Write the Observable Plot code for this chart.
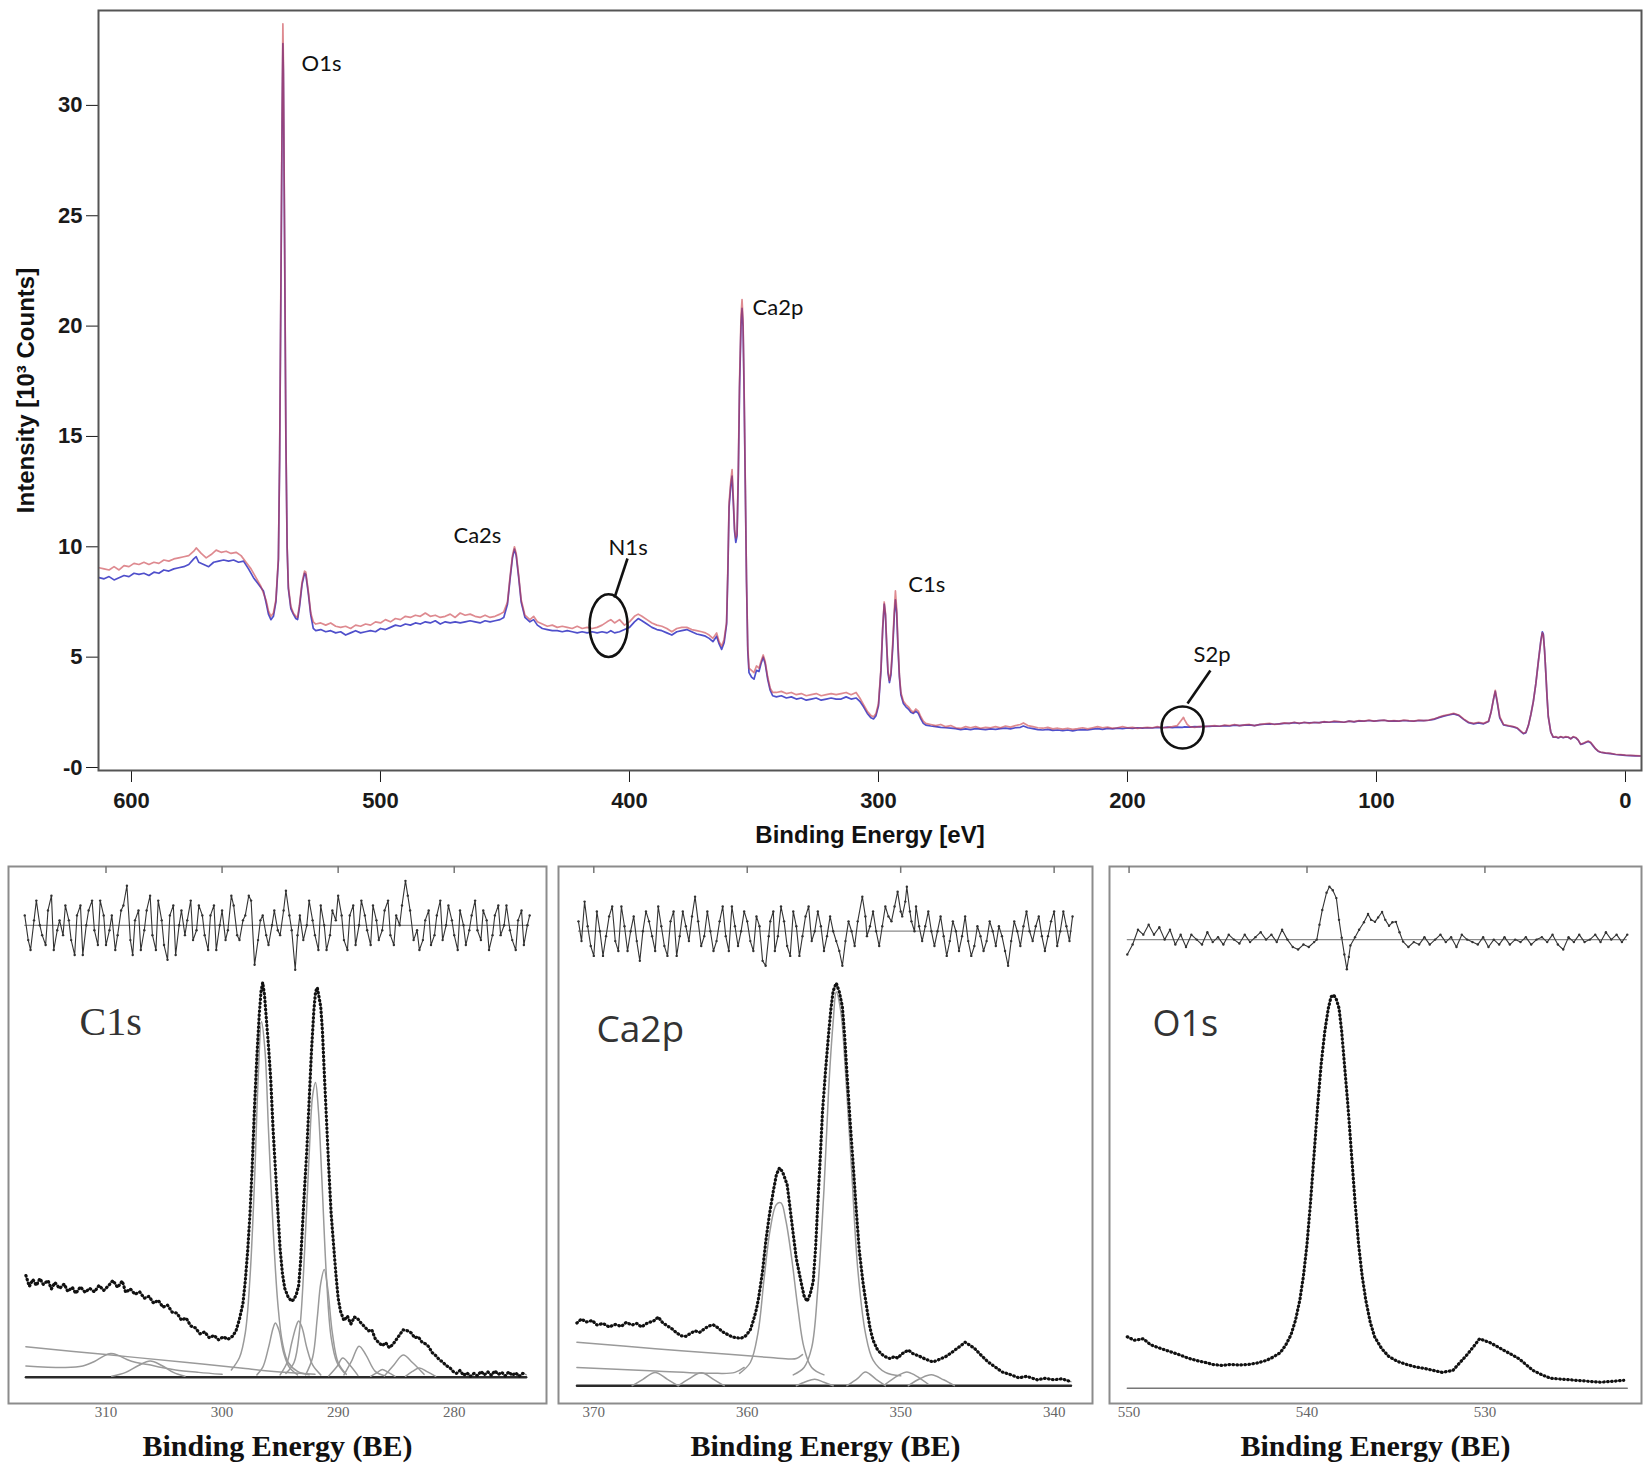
<!DOCTYPE html>
<html><head><meta charset="utf-8">
<script src="https://cdn.jsdelivr.net/npm/d3@7"></script>
<script src="https://cdn.jsdelivr.net/npm/@observablehq/plot@0.6"></script>
<style>
body{margin:0;background:#fff;}
#wrap{position:relative;width:1652px;height:1473px;overflow:hidden;background:#fff;}
#wrap > div{position:absolute;}
</style></head><body>
<div id="wrap"><div id="survey" style="left:0;top:0"></div><div id="p1" style="left:0;top:856px"></div><div id="p2" style="left:550px;top:856px"></div><div id="p3" style="left:1100px;top:856px"></div></div>
<script>
// ---------------- survey spectrum ----------------
const xTicks = [600, 500, 400, 300, 200, 100, 0];
const yTicks = [0, 5, 10, 15, 20, 25, 30];
const yTickLabels = ["-0", "5", "10", "15", "20", "25", "30"];
const xAxisLabel = "Binding Energy [eV]";
const yAxisLabel = "Intensity [10³ Counts]";

const peakNames = ["O1s", "Ca2s", "N1s", "Ca2p", "C1s", "S2p"];
const peakLabelE = [531.7, 470.7, 408.4, 350.6, 288.0, 173.5];
const peakLabelI = [31.9, 10.5, 9.95, 20.8, 8.27, 5.1];

const ringE = [408.4, 177.9];
const ringI = [6.43, 1.81];
const leaderE1 = [400.8, 166.7], leaderI1 = [9.47, 4.40];
const leaderE2 = [406.0, 175.9], leaderI2 = [7.70, 2.90];

const surveyRed = [[613,9.05],[611,9.0],[609,8.95],[607,9.1],[605,8.95],[603,9.15],[601,9.1],[599,9.25],[597,9.2],[595,9.3],[593,9.2],[591,9.3],[589,9.25],[587,9.4],[585,9.35],[583,9.45],[581,9.5],[579,9.55],[577,9.6],[575,9.8],[574,9.95],[572,9.7],[570,9.5],[568,9.65],[566,9.85],[564,9.75],[562,9.8],[560,9.7],[558,9.75],[556,9.6],[554,9.3],[552,9.0],[550,8.6],[548,8.2],[546,7.6],[545,7.1],[544,6.85],[543,7.0],[542,7.6],[541,9.5],[540.5,14],[540,22],[539.5,30],[539.2,33.7],[539,32],[538.5,24],[538,15],[537.5,10],[537,8.2],[536,7.3],[535,7.0],[534,6.85],[533.3,6.8],[532.5,7.4],[531.5,8.4],[530.5,8.9],[530,8.85],[529,8.0],[528,7.0],[527,6.6],[526,6.5],[524,6.55],[522,6.45],[520,6.55],[518,6.4],[516,6.35],[514,6.4],[512,6.3],[510,6.45],[508,6.4],[506,6.5],[504,6.45],[502,6.6],[500,6.55],[498,6.7],[496,6.6],[494,6.75],[492,6.7],[490,6.85],[488,6.8],[486,6.9],[484,6.85],[482,7.0],[480,6.85],[478,6.9],[476,6.8],[474,6.85],[472,6.95],[470,6.8],[468,7.0],[466,6.9],[464,6.95],[462,6.85],[460,6.8],[458,6.9],[456,6.8],[454,6.85],[452,6.95],[450.5,7.05],[449,7.5],[448,8.6],[447,9.6],[446.2,10.0],[445.5,9.7],[444.5,8.7],[443.5,7.6],[442,6.9],[440,6.7],[438.5,6.85],[437,6.6],[435,6.5],[433,6.4],[431,6.45],[429,6.35],[427,6.4],[425,6.35],[423,6.3],[421,6.4],[419,6.3],[417,6.35],[415,6.3],[413,6.35],[411,6.45],[409,6.6],[407.5,6.7],[406,6.55],[404,6.7],[402,6.45],[400,6.6],[398,6.85],[396.5,6.95],[395,6.85],[393,6.7],[391,6.55],[389,6.45],[387,6.4],[385,6.3],[383,6.15],[381,6.3],[379,6.35],[377,6.35],[375,6.25],[373,6.2],[371,6.15],[369.5,6.1],[368,6.0],[366.5,5.85],[365,6.1],[364,5.7],[363,5.5],[362,5.8],[361,6.6],[360.5,9.0],[360,12.0],[359.3,13.0],[358.8,13.5],[358.3,12.2],[357.8,10.8],[357.3,10.4],[356.8,10.6],[356.3,13.5],[355.8,17.5],[355.2,20.5],[354.8,21.2],[354.4,20.3],[354,17.5],[353.5,13.0],[353,8.5],[352.5,5.5],[352,4.5],[351,4.4],[350,4.3],[349,4.6],[348,4.5],[347.2,4.8],[346.3,5.1],[345.5,4.8],[344.5,4.1],[343.5,3.6],[342.5,3.4],[341,3.4],[339,3.45],[337,3.35],[335,3.4],[333,3.3],[331,3.35],[329,3.25],[327,3.3],[325,3.35],[323,3.25],[321,3.3],[319,3.35],[317,3.3],[315,3.35],[313,3.4],[311,3.3],[309,3.4],[307.5,3.15],[306,2.85],[304.5,2.55],[303,2.35],[302,2.3],[301,2.45],[300,2.9],[299,4.5],[298.3,6.4],[297.7,7.5],[297.2,7.0],[296.7,5.6],[296.2,4.4],[295.6,3.95],[295,4.3],[294.3,5.6],[293.6,7.2],[293.2,8.0],[292.7,7.2],[292.2,5.7],[291.6,4.2],[291,3.4],[290,3.0],[289,2.85],[288,2.75],[287,2.6],[286,2.5],[285,2.65],[284,2.55],[283,2.3],[282,2.1],[281,2.0],[279,1.95],[277,1.9],[275,1.95],[273,1.85],[271,1.9],[269,1.8],[267,1.77],[265,1.85],[263,1.8],[261,1.85],[259,1.78],[257,1.82],[255,1.8],[253,1.85],[251,1.8],[249,1.88],[247,1.83],[245,1.9],[243,1.95],[241.8,2.02],[240,1.9],[238,1.85],[236,1.8],[234,1.78],[232,1.82],[230,1.75],[228,1.78],[226,1.74],[224,1.78],[222,1.73],[220,1.76],[218,1.8],[216,1.75],[214,1.8],[212,1.85],[210,1.8],[208,1.83],[206,1.78],[204,1.8],[202,1.85],[200,1.8],[198,1.82],[196,1.77],[194,1.8],[192,1.82],[190,1.8],[188,1.85],[186,1.8],[184,1.82],[182,1.85],[180,1.9],[179,2.05],[178,2.2],[177.5,2.27],[177,2.15],[176,1.95],[175,1.85],[173,1.82],[171,1.86],[169,1.85],[167,1.88],[165,1.9],[163,1.87],[161,1.92],[159,1.9],[157,1.95],[155,1.9],[153,1.93],[151,1.95],[149,1.9],[147,1.95],[145,1.98],[143,2.0],[141,1.95],[139,1.98],[137,2.02],[135,2.0],[133,2.05],[131,2.0],[129,2.05],[127,2.0],[125,2.05],[123,2.02],[121,2.08],[119,2.05],[117,2.1],[115,2.08],[113,2.05],[111,2.1],[109,2.08],[107,2.12],[105,2.1],[103,2.15],[101,2.1],[99,2.13],[97,2.15],[95,2.1],[93,2.12],[91,2.1],[89,2.15],[87,2.12],[85,2.1],[83,2.15],[81,2.12],[79,2.15],[77,2.2],[75,2.28],[73,2.35],[71,2.4],[69,2.45],[67,2.38],[65,2.2],[63,2.05],[61,2.0],[59,2.05],[57,2.0],[55,2.1],[54,2.5],[53,3.1],[52.3,3.5],[51.5,3.0],[50.5,2.3],[49,1.95],[47,1.9],[45,1.85],[43.5,1.8],[42,1.65],[41,1.55],[40,1.6],[39,1.9],[38,2.4],[37,3.0],[36,3.8],[35,4.8],[34,5.7],[33.4,6.1],[33,6.0],[32.5,5.3],[32,4.3],[31.5,3.2],[31,2.3],[30,1.6],[29,1.38],[28,1.4],[27,1.35],[26,1.4],[25,1.36],[24,1.4],[23,1.38],[22,1.3],[21,1.4],[20,1.36],[19,1.25],[18,1.05],[17,1.1],[16,1.15],[15,1.2],[14,1.14],[13,1.0],[12,0.85],[11,0.75],[10,0.7],[8,0.66],[6,0.64],[4,0.6],[2,0.58],[0,0.56],[-2,0.55],[-4,0.54],[-6,0.53]];

const surveyBlue = [[613,8.6],[611,8.55],[609,8.65],[607,8.5],[605,8.6],[603,8.7],[601,8.65],[599,8.8],[597,8.75],[595,8.8],[593,8.7],[591,8.85],[589,8.8],[587,8.95],[585,8.9],[583,9.0],[581,9.05],[579,9.1],[577,9.2],[575,9.45],[574,9.55],[573,9.3],[571,9.2],[569,9.1],[567,9.3],[565,9.35],[563,9.4],[561,9.35],[559,9.4],[557,9.3],[555,9.35],[553,9.0],[551,8.6],[549,8.3],[547,8.0],[546,7.5],[545,6.95],[544,6.7],[543,6.85],[542,7.5],[541,9.4],[540.5,14],[540,21.5],[539.5,29.5],[539.2,32.8],[539,31.5],[538.5,23.5],[538,15],[537.5,10],[537,8.1],[536,7.2],[535,6.95],[534,6.75],[533.3,6.7],[532.5,7.3],[531.5,8.3],[530.5,8.8],[530,8.75],[529,7.9],[528,6.9],[527,6.3],[526,6.2],[524,6.25],[522,6.15],[520,6.2],[518,6.1],[516,6.15],[514,6.0],[512,6.1],[510,6.2],[508,6.1],[506,6.15],[504,6.2],[502,6.15],[500,6.3],[498,6.25],[496,6.35],[494,6.45],[492,6.4],[490,6.5],[488,6.45],[486,6.55],[484,6.5],[482,6.6],[480,6.55],[478,6.65],[476,6.5],[474,6.6],[472,6.55],[470,6.6],[468,6.55],[466,6.6],[464,6.65],[462,6.6],[460,6.55],[458,6.65],[456,6.6],[454,6.65],[452,6.7],[450.5,6.8],[449,7.4],[448,8.5],[447,9.5],[446.2,9.9],[445.5,9.6],[444.5,8.6],[443.5,7.5],[442,6.8],[440,6.6],[438.5,6.7],[437,6.45],[435,6.3],[433,6.25],[431,6.2],[429,6.2],[427,6.15],[425,6.2],[423,6.15],[421,6.1],[419,6.15],[417,6.1],[415,6.15],[413,6.1],[411,6.15],[409,6.1],[407.5,6.2],[406,6.1],[404,6.15],[402,6.25],[400,6.35],[398,6.6],[396.5,6.75],[395,6.65],[393,6.5],[391,6.35],[389,6.25],[387,6.2],[385,6.1],[383,6.0],[381,6.15],[379,6.2],[377,6.25],[375,6.15],[373,6.05],[371,6.0],[369.5,5.95],[368,5.85],[366.5,5.7],[365,5.95],[364,5.6],[363,5.35],[362,5.65],[361,6.5],[360.5,8.8],[360,11.8],[359.3,12.8],[358.8,13.2],[358.3,12.0],[357.8,10.7],[357.3,10.2],[356.8,10.5],[356.3,13.2],[355.8,17.2],[355.2,20.1],[354.8,20.8],[354.4,20.0],[354,17.2],[353.5,12.8],[353,8.4],[352.5,5.3],[352,4.3],[351,4.1],[350,4.0],[349,4.4],[348,4.35],[347.2,4.7],[346.3,5.0],[345.5,4.7],[344.5,4.0],[343.5,3.5],[342.5,3.25],[341,3.2],[339,3.25],[337,3.15],[335,3.2],[333,3.1],[331,3.15],[329,3.05],[327,3.1],[325,3.15],[323,3.05],[321,3.1],[319,3.15],[317,3.1],[315,3.1],[313,3.2],[311,3.1],[309,3.15],[307.5,3.0],[306,2.75],[304.5,2.45],[303,2.25],[302,2.2],[301,2.35],[300,2.8],[299,4.4],[298.3,6.3],[297.7,7.4],[297.2,6.9],[296.7,5.5],[296.2,4.3],[295.6,3.85],[295,4.2],[294.3,5.4],[293.6,7.0],[293.2,7.6],[292.7,7.0],[292.2,5.5],[291.6,4.1],[291,3.3],[290,2.9],[289,2.75],[288,2.65],[287,2.5],[286,2.45],[285,2.55],[284,2.45],[283,2.2],[282,2.0],[281,1.92],[279,1.88],[277,1.85],[275,1.82],[273,1.8],[271,1.78],[269,1.76],[267,1.72],[265,1.75],[263,1.72],[261,1.76],[259,1.74],[257,1.72],[255,1.75],[253,1.73],[251,1.76],[249,1.78],[247,1.75],[245,1.8],[243,1.82],[241.8,1.88],[240,1.8],[238,1.76],[236,1.72],[234,1.7],[232,1.73],[230,1.68],[228,1.7],[226,1.67],[224,1.7],[222,1.66],[220,1.7],[218,1.72],[216,1.7],[214,1.74],[212,1.76],[210,1.73],[208,1.77],[206,1.75],[204,1.78],[202,1.76],[200,1.79],[198,1.77],[196,1.8],[194,1.78],[192,1.8],[190,1.79],[188,1.82],[186,1.8],[184,1.83],[182,1.81],[180,1.83],[178,1.82],[177,1.84],[175,1.83],[173,1.85],[171,1.84],[169,1.87],[167,1.86],[165,1.88],[163,1.87],[161,1.9],[159,1.88],[157,1.92],[155,1.9],[153,1.92],[151,1.93],[149,1.9],[147,1.94],[145,1.96],[143,1.98],[141,1.96],[139,1.98],[137,2.0],[135,2.0],[133,2.03],[131,2.0],[129,2.04],[127,2.02],[125,2.04],[123,2.03],[121,2.07],[119,2.05],[117,2.08],[115,2.07],[113,2.05],[111,2.1],[109,2.07],[107,2.11],[105,2.1],[103,2.13],[101,2.1],[99,2.12],[97,2.14],[95,2.1],[93,2.11],[91,2.1],[89,2.13],[87,2.11],[85,2.1],[83,2.13],[81,2.12],[79,2.14],[77,2.18],[75,2.26],[73,2.33],[71,2.38],[69,2.43],[67,2.36],[65,2.18],[63,2.03],[61,1.98],[59,2.02],[57,1.98],[55,2.08],[54,2.5],[53,3.1],[52.3,3.45],[51.5,2.95],[50.5,2.25],[49,1.93],[47,1.88],[45,1.84],[43.5,1.78],[42,1.63],[41,1.53],[40,1.58],[39,1.9],[38,2.4],[37,3.0],[36,3.8],[35,4.8],[34,5.75],[33.4,6.15],[33,6.05],[32.5,5.3],[32,4.3],[31.5,3.2],[31,2.3],[30,1.6],[29,1.37],[28,1.38],[27,1.34],[26,1.39],[25,1.35],[24,1.38],[23,1.37],[22,1.3],[21,1.38],[20,1.35],[19,1.24],[18,1.05],[17,1.08],[16,1.13],[15,1.18],[14,1.12],[13,0.98],[12,0.84],[11,0.74],[10,0.69],[8,0.65],[6,0.63],[4,0.59],[2,0.57],[0,0.55],[-2,0.54],[-4,0.53],[-6,0.52]];

// ---------------- high resolution panels ----------------
const panelAxisLabel = "Binding Energy (BE)";
const panelTitles = ["C1s", "Ca2p", "O1s"];
const c1sTicks = [310, 300, 290, 280];
const ca2pTicks = [370, 360, 350, 340];
const o1sTicks = [550, 540, 530];

const c1sData = [[316.9,20.6],[316.6,18.4],[316.3,19.8],[316.0,18.6],[315.7,20.0],[315.4,18.8],[315.0,19.6],[314.7,17.9],[314.4,19.2],[314.0,18.0],[313.6,18.9],[313.3,17.4],[312.9,18.2],[312.6,17.0],[312.2,18.3],[311.8,17.2],[311.4,18.0],[311.0,17.3],[310.6,18.6],[310.2,17.6],[309.8,18.5],[309.4,19.6],[309.0,18.2],[308.6,19.5],[308.3,17.2],[307.9,17.9],[307.5,16.8],[307.1,17.3],[306.7,16.0],[306.3,16.4],[305.9,15.0],[305.5,15.6],[305.1,14.2],[304.7,14.6],[304.3,13.2],[303.9,13.0],[303.5,11.6],[303.1,12.0],[302.7,10.4],[302.3,10.0],[301.9,8.8],[301.5,9.2],[301.1,8.0],[300.7,8.5],[300.3,7.6],[299.9,8.2],[299.5,7.7],[299.1,8.3],[298.8,9.4],[298.5,11.8],[298.2,15.0],[298.0,19.5],[297.8,25.4],[297.6,33],[297.4,43],[297.2,55],[297.0,65],[296.8,73.3],[296.65,78],[296.5,79.9],[296.35,77.5],[296.2,73.0],[296.0,67],[295.8,60],[295.6,50],[295.4,42],[295.2,34],[295.0,26],[294.8,21],[294.6,18],[294.3,16.2],[294.0,15.4],[293.8,15.8],[293.6,16.8],[293.4,18.6],[293.25,23],[293.1,29.4],[292.9,38],[292.7,46],[292.5,56],[292.3,66],[292.1,74],[291.95,78],[291.8,78.9],[291.65,77],[291.5,75],[291.35,70],[291.2,62],[291.0,52],[290.8,42],[290.6,33],[290.4,27],[290.2,21],[290.0,16],[289.8,13.4],[289.5,11.5],[289.2,12.4],[288.9,10.8],[288.6,12.2],[288.3,11.8],[288.0,10.9],[287.7,10.2],[287.4,9.4],[287.1,9.6],[286.8,7.8],[286.5,7.0],[286.2,6.4],[285.9,7.0],[285.6,6.0],[285.3,6.6],[285.0,7.6],[284.7,8.6],[284.4,9.6],[284.0,9.4],[283.7,9.0],[283.4,8.0],[283.1,8.2],[282.8,7.2],[282.5,6.8],[282.2,6.2],[281.9,5.0],[281.6,4.4],[281.3,3.6],[281.0,3.1],[280.7,2.4],[280.4,2.0],[280.1,1.2],[279.8,0.8],[279.5,1.4],[279.2,0.4],[278.9,0.9],[278.6,0.2],[278.3,0.8],[278.0,0.3],[277.7,1.2],[277.4,0.5],[277.1,1.1],[276.8,0.4],[276.5,1.3],[276.2,0.6],[275.9,1.0],[275.6,0.3],[275.3,1.1],[275.0,0.4],[274.7,0.9],[274.4,0.2],[274.1,0.8],[273.8,0.5]];

const c1sComponents = [
  [[316.9,6.2],[310,4.6],[303,3.0],[298,1.8],[296.9,1.5],[295,1.1],[292,0.6]],
  [[316.9,2.3],[313.5,2.0],[312,2.3],[311,3.2],[310.2,4.3],[309.6,4.8],[309,4.5],[308.2,3.6],[307.4,3.0],[306.4,2.6],[305.2,2.0],[304,1.5],[302,1.0],[300,0.6]],
  [[309.5,0.2],[308.3,1.0],[307.2,2.4],[306.2,3.3],[305.2,2.4],[304.2,1.0],[303.2,0.2]],
  [[299.2,1.5],[298.5,4],[298,9],[297.6,20],[297.2,40],[296.9,60],[296.6,72],[296.3,66],[296.0,50],[295.6,30],[295.2,15],[294.8,7],[294.3,3],[293.5,1.2],[292.5,0.5]],
  [[297,0.5],[296.5,2],[296,6],[295.6,10],[295.4,11],[295.1,9.5],[294.7,5],[294.2,2],[293.5,0.5]],
  [[295,0.5],[294.4,3],[294,7],[293.6,10.5],[293.4,11.4],[293.1,10],[292.7,6],[292.2,2.5],[291.5,0.5]],
  [[294.5,0.8],[293.8,3],[293.3,10],[292.9,25],[292.5,45],[292.2,57],[291.95,59.7],[291.7,54],[291.4,40],[291.0,20],[290.6,8],[290.1,3],[289.5,1]],
  [[292.8,0.5],[292.2,4],[291.8,12],[291.5,19],[291.2,21.8],[290.9,18],[290.5,9],[290.0,3],[289.3,0.6]],
  [[290.8,0.3],[290.1,2.2],[289.6,3.9],[289.0,2.5],[288.3,0.4]],
  [[289.5,0.5],[288.8,3.5],[288.2,6.3],[287.6,4.5],[286.8,1.2],[286,0.3]],
  [[287.2,0.2],[286.6,1.0],[286.2,1.6],[285.7,1.0],[285.1,0.2]],
  [[286,0.3],[285.2,2.5],[284.4,4.5],[283.6,3],[282.6,0.6]],
  [[284.2,0.2],[283.6,1.2],[283.0,1.9],[282.3,1.1],[281.6,0.2]]
];
const c1sBaseline = [[316.9,0],[273.8,0]];
const c1sResidZero = 91.5;
const c1sResidual = [[317.0,2],[316.7,-3],[316.5,-5],[316.2,1],[316.0,5],[315.7,0],[315.5,-2],[315.2,-4],[315.0,3],[314.7,6],[314.5,-5],[314.2,-1],[314.0,1],[313.7,-2],[313.5,4],[313.2,1],[313.0,-3],[312.7,-6],[312.5,2],[312.2,4],[312.0,-6],[311.7,0],[311.5,3],[311.2,5],[311.0,-1],[310.7,-4],[310.5,5],[310.2,2],[310.0,-4],[309.7,-1],[309.5,2],[309.2,-5],[309.0,-2],[308.7,3],[308.5,4],[308.2,8],[307.9,-3],[307.7,-6],[307.5,1],[307.2,3],[307.0,-5],[306.7,-1],[306.5,3],[306.2,6],[306.0,-2],[305.7,-5],[305.5,5],[305.2,1],[305.0,-4],[304.7,-7],[304.5,2],[304.2,4],[304.0,-6],[303.7,0],[303.5,3],[303.2,-2],[303.0,1],[302.7,5],[302.5,-3],[302.2,-1],[302.0,4],[301.7,2],[301.5,-2],[301.2,-5],[301.0,2],[300.7,4],[300.5,-5],[300.2,0],[300.0,3],[299.7,-3],[299.5,-1],[299.2,6],[299.0,4],[298.7,-2],[298.5,-3],[298.2,1],[298.0,2],[297.7,6],[297.5,5],[297.2,-8],[296.9,-3],[296.7,1],[296.5,2],[296.2,-2],[296.0,-4],[295.7,0],[295.5,3],[295.2,-1],[295.0,-2],[294.7,3],[294.5,7],[294.2,2],[294.0,-1],[293.7,-9],[293.5,-2],[293.3,2],[293.0,-3],[292.7,0],[292.5,5],[292.2,1],[292.0,-2],[291.7,-5],[291.5,4],[291.2,0],[291.0,-5],[290.7,-2],[290.5,3],[290.2,1],[290.0,6],[289.7,2],[289.5,-3],[289.2,-5],[289.0,2],[288.7,4],[288.5,-4],[288.2,0],[288.0,5],[287.7,2],[287.5,-1],[287.2,-4],[287.0,4],[286.7,1],[286.5,-3],[286.2,-1],[286.0,3],[285.7,5],[285.5,-2],[285.2,-4],[285.0,2],[284.7,0],[284.5,4],[284.2,9],[284.0,6],[283.8,3],[283.5,-3],[283.2,-1],[283.0,-5],[282.7,-3],[282.5,1],[282.2,3],[282.0,-4],[281.7,-2],[281.5,2],[281.2,5],[281.0,-3],[280.7,0],[280.5,4],[280.2,1],[280.0,-2],[279.7,-5],[279.5,3],[279.2,0],[279.0,-4],[278.7,-1],[278.5,2],[278.2,5],[278.0,-1],[277.7,-3],[277.5,3],[277.2,1],[277.0,-5],[276.7,-2],[276.5,2],[276.2,4],[276.0,-2],[275.7,0],[275.5,4],[275.2,-1],[275.0,-3],[274.7,-5],[274.5,1],[274.2,3],[274.0,-4],[273.7,0],[273.5,2]];

const ca2pData = [[371.1,11.0],[370.8,11.8],[370.5,11.2],[370.1,11.5],[369.8,10.6],[369.4,10.9],[369.0,10.2],[368.6,10.7],[368.2,10.3],[367.9,11.1],[367.5,10.6],[367.2,10.9],[366.9,10.2],[366.5,11.0],[366.1,11.4],[365.8,12.2],[365.5,11.0],[365.2,10.4],[364.9,9.8],[364.6,9.0],[364.3,8.4],[364.0,8.3],[363.7,8.9],[363.4,9.4],[363.1,9.1],[362.8,9.8],[362.5,10.4],[362.2,10.6],[361.9,10.0],[361.6,9.2],[361.3,8.7],[361.0,8.2],[360.7,8.0],[360.4,7.9],[360.1,8.4],[359.8,9.6],[359.6,11.5],[359.4,13.8],[359.25,16.2],[359.0,21.5],[358.8,27.3],[358.55,33],[358.3,37.7],[358.1,41],[357.9,42.4],[357.7,41.6],[357.4,39.0],[357.2,34],[357.0,28.9],[356.8,24],[356.5,19.4],[356.3,16.5],[356.1,15.4],[355.9,16.8],[355.7,19.4],[355.55,26],[355.4,35.3],[355.25,44],[355.1,53.5],[354.9,62],[354.7,69.4],[354.55,74.5],[354.4,78.2],[354.2,79.8],[354.0,78],[353.8,75.0],[353.65,69],[353.5,61.5],[353.3,52],[353.1,43.2],[352.9,34],[352.7,25.7],[352.45,19],[352.2,13.8],[352.0,10.0],[351.8,7.5],[351.5,5.5],[351.1,4.3],[350.7,3.8],[350.4,4.2],[350.2,3.9],[349.9,4.8],[349.5,5.5],[349.2,4.8],[348.8,4.3],[348.4,3.7],[347.9,3.1],[347.5,3.6],[347.0,4.3],[346.6,5.2],[346.3,5.9],[346.0,6.6],[345.8,7.1],[345.5,6.5],[345.2,5.9],[344.8,4.6],[344.3,3.1],[343.8,2.0],[343.4,1.1],[342.9,0.6],[342.3,-0.1],[341.8,0.2],[341.1,-0.5],[340.6,-0.2],[340.0,-0.5],[339.5,-0.3],[338.9,-0.9]];

const ca2pComponents = [
  [[371.1,7.1],[366,5.8],[361,4.6],[358.5,4.0],[357.2,3.7],[356.8,3.8],[356.4,4.6]],
  [[371.1,2.0],[366,1.3],[362,0.8],[360.8,1.0],[360.2,2.0]],
  [[360.5,0.8],[359.8,3],[359.3,9],[358.9,20],[358.5,30],[358.1,35],[357.8,35.3],[357.5,32],[357.1,24],[356.7,14],[356.3,6],[355.8,2],[355,0.5]],
  [[357,0.5],[356.3,2],[355.8,6],[355.4,18],[355.0,38],[354.7,58],[354.4,72],[354.2,78],[353.9,74],[353.6,62],[353.2,42],[352.8,22],[352.3,9],[351.8,3.5],[351,1],[350,0.3]],
  [[367.5,-1.7],[366.8,-0.4],[366,1.0],[365.2,-0.4],[364.5,-1.7]],
  [[364.5,-1.7],[363.8,-0.3],[363,0.9],[362.2,-0.4],[361.5,-1.7]],
  [[356.8,-1.7],[356.2,-0.9],[355.6,-0.4],[355.0,-1.0],[354.4,-1.7]],
  [[353.5,-1.7],[352.8,-0.2],[352.3,1.1],[351.6,-0.4],[351,-1.7]],
  [[351,-1.4],[350.2,0.3],[349.6,1.1],[349,0.3],[348.2,-1.4]],
  [[349.5,-1.7],[348.7,-0.2],[348,0.5],[347.2,-0.5],[346.5,-1.7]]
];
const ca2pBaseline = [[371.1,-1.7],[338.9,-1.7]];
const ca2pResidZero = 90.3;
const ca2pResidual = [[371.0,2],[370.8,-2],[370.6,6],[370.4,1],[370.2,-3],[370.0,-5],[369.8,4],[369.6,0],[369.4,-5],[369.2,-1],[369.0,3],[368.8,5],[368.6,-2],[368.4,-4],[368.2,5],[368.0,1],[367.8,-4],[367.6,0],[367.4,3],[367.2,-2],[367.0,-6],[366.8,0],[366.6,4],[366.4,2],[366.2,-1],[366.0,-4],[365.8,5],[365.6,1],[365.4,-3],[365.2,-5],[365.0,2],[364.8,4],[364.6,-5],[364.4,-1],[364.2,4],[364.0,1],[363.8,-2],[363.6,3],[363.4,7],[363.2,2],[363.0,-3],[362.8,-1],[362.6,4],[362.4,0],[362.2,-4],[362.0,-2],[361.8,2],[361.6,5],[361.4,-1],[361.2,-4],[361.0,5],[360.8,1],[360.6,-3],[360.4,0],[360.2,4],[360.0,2],[359.8,-2],[359.6,-4],[359.4,3],[359.2,1],[359.0,-6],[358.8,-7],[358.6,-1],[358.5,2],[358.3,4],[358.2,-4],[358.0,-1],[357.8,5],[357.6,2],[357.4,-3],[357.2,-5],[357.0,4],[356.8,1],[356.6,-5],[356.4,-1],[356.2,3],[356.0,5],[355.8,-2],[355.6,0],[355.4,4],[355.2,1],[355.0,-4],[354.8,-1],[354.6,3],[354.4,0],[354.2,-2],[354.0,-4],[353.8,-7],[353.6,-2],[353.4,2],[353.2,0],[353.0,-3],[352.8,2],[352.5,7],[352.3,3],[352.2,-1],[352.0,1],[351.8,4],[351.6,0],[351.4,-3],[351.2,1],[351.0,5],[350.8,3],[350.6,2],[350.4,5],[350.2,8],[350.0,4],[349.9,3],[349.7,6],[349.6,9],[349.4,4],[349.3,2],[349.1,0],[349.0,5],[348.8,1],[348.6,-2],[348.4,1],[348.2,4],[348.0,0],[347.8,-3],[347.6,0],[347.4,3],[347.2,-1],[347.0,-5],[346.8,-2],[346.6,2],[346.4,0],[346.2,-4],[346.0,-1],[345.8,3],[345.6,-2],[345.4,-5],[345.2,-3],[345.0,1],[344.8,-1],[344.6,-4],[344.4,-2],[344.2,2],[344.0,0],[343.8,-3],[343.6,1],[343.4,-1],[343.2,-4],[343.0,-7],[342.8,-2],[342.6,2],[342.4,0],[342.2,-3],[342.0,1],[341.8,4],[341.6,0],[341.4,-2],[341.2,1],[341.0,3],[340.8,-1],[340.6,-4],[340.4,-1],[340.2,2],[340.0,4],[339.8,-3],[339.6,0],[339.4,4],[339.2,1],[339.0,-2],[338.8,3]];

const o1sData = [[550.1,8.2],[549.7,7.5],[549.2,7.8],[548.8,6.6],[548.2,5.8],[547.7,5.2],[547.2,4.6],[546.7,3.9],[546.2,3.4],[545.7,3.0],[545.3,2.6],[544.8,2.4],[544.3,2.6],[543.8,2.5],[543.3,2.6],[542.8,2.9],[542.3,3.4],[541.9,4.1],[541.5,5.0],[541.2,6.5],[540.9,8.6],[540.65,11.5],[540.4,15.7],[540.2,20.5],[540.0,26.9],[539.8,35.5],[539.6,45.2],[539.4,55],[539.2,63.5],[539.0,70],[538.8,74.7],[538.65,77],[538.5,77.4],[538.35,76.5],[538.2,74.7],[538.05,70],[537.9,63.5],[537.7,55],[537.5,45.2],[537.3,35.5],[537.1,26.9],[536.9,20.5],[536.7,15.7],[536.45,11.2],[536.2,8.2],[535.8,5.8],[535.4,4.2],[534.9,3.2],[534.4,2.6],[533.9,2.1],[533.4,1.8],[532.9,1.4],[532.4,1.0],[532.1,1.2],[531.8,1.4],[531.4,3.0],[531.0,4.6],[530.6,6.4],[530.3,7.8],[530.0,7.4],[529.7,7.0],[529.3,6.2],[528.9,5.4],[528.5,4.6],[528.1,3.8],[527.7,2.6],[527.3,1.4],[526.8,0.5],[526.3,-0.2],[525.6,-0.4],[524.9,-0.6],[524.2,-0.8],[523.5,-1.0],[522.8,-0.8],[522.2,-0.6]];
const o1sComponents = [];
const o1sBaseline = [[550.1,-2.2],[522.0,-2.2]];
const o1sResidZero = 88.6;
const o1sResidual = [[550.1,-3],[549.8,-1],[549.5,2],[549.2,1],[548.9,3],[548.6,1],[548.3,2.5],[548.0,0],[547.7,2],[547.4,-1],[547.1,1],[546.8,-1.5],[546.5,1],[546.2,0],[545.9,-1],[545.6,1.5],[545.3,-0.5],[545.0,0.5],[544.7,-1],[544.4,1],[544.1,0],[543.8,-0.8],[543.5,1],[543.2,-0.5],[542.9,0.5],[542.6,1.5],[542.3,0],[542.0,1],[541.7,-0.5],[541.4,2],[541.1,0],[540.8,-1.5],[540.5,-2],[540.2,-1],[539.9,-1.5],[539.6,-0.5],[539.45,0],[539.3,3],[539.14,6],[538.9,9.5],[538.74,10.7],[538.55,10],[538.35,8.4],[538.2,4],[538.05,0.4],[537.9,-3],[537.76,-6],[537.65,-3.5],[537.56,-1.2],[537.3,0.5],[537.07,2],[536.8,3.5],[536.57,5.2],[536.4,4],[536.18,3.6],[536.0,4.5],[535.78,5.6],[535.6,4],[535.39,2.8],[535.2,3.5],[535.0,3.6],[534.8,1.5],[534.6,-0.4],[534.3,-1.5],[534.0,-0.5],[533.7,-1],[533.4,0.5],[533.1,-1],[532.8,0],[532.5,1],[532.2,-0.5],[531.9,0.5],[531.6,-1.5],[531.3,1],[531.0,0],[530.7,-0.5],[530.4,-1],[530.1,0.5],[529.8,-1.5],[529.5,0],[529.2,-1],[528.9,0.5],[528.6,-1],[528.3,0],[528.0,-0.5],[527.7,0.5],[527.4,-1],[527.1,0],[526.8,0.5],[526.5,-0.5],[526.2,1],[525.9,-1],[525.6,-2],[525.3,0.5],[525.0,-0.5],[524.7,1],[524.4,-0.5],[524.1,0],[523.8,1],[523.5,-0.5],[523.2,1.5],[522.9,0],[522.6,1],[522.3,-0.5],[522.0,1]];

// ---------------- rendering ----------------
const X = d => d[0], Y = d => d[1];

// ellipse symbol (taller than wide) for the N1s marker
const ellipseSymbol = {
  draw(ctx, size) {
    const r = Math.sqrt(size / Math.PI), rx = r, ry = r * 1.65, k = 0.5523;
    ctx.moveTo(rx, 0);
    ctx.bezierCurveTo(rx, ry * k, rx * k, ry, 0, ry);
    ctx.bezierCurveTo(-rx * k, ry, -rx, ry * k, -rx, 0);
    ctx.bezierCurveTo(-rx, -ry * k, -rx * k, -ry, 0, -ry);
    ctx.bezierCurveTo(rx * k, -ry, rx, -ry * k, rx, 0);
    ctx.closePath();
  }
};

const peakLabels = peakNames.map((n, i) => ({name: n, E: peakLabelE[i], I: peakLabelI[i]}));
const leaders = leaderE1.map((e, i) => ({E1: e, I1: leaderI1[i], E2: leaderE2[i], I2: leaderI2[i]}));

const survey = Plot.plot({
  width: 1652, height: 856,
  marginLeft: 98, marginRight: 11, marginTop: 10, marginBottom: 86,
  style: {fontFamily: "'Liberation Sans', Arial, sans-serif", fontSize: "22px", fontWeight: "bold", color: "#1a1a1a", background: "transparent"},
  x: {domain: [613.25, -6.43], ticks: xTicks, tickSize: 12, tickPadding: 10, label: null, tickFormat: d => String(d)},
  y: {domain: [-0.136, 34.3], ticks: yTicks, tickSize: 12, tickPadding: 4, label: null, tickFormat: d => yTickLabels[yTicks.indexOf(d)]},
  marks: [
    Plot.line(surveyBlue, {x: X, y: Y, stroke: "#4646c8", strokeWidth: 1.7, strokeOpacity: 0.95}),
    Plot.line(surveyRed, {x: X, y: Y, stroke: "#c83c46", strokeWidth: 1.7, strokeOpacity: 0.6}),
    Plot.frame({stroke: "#555", strokeWidth: 2}),
    Plot.dot([0], {x: () => ringE[0], y: () => ringI[0], r: 19, symbol: ellipseSymbol, stroke: "#111", strokeWidth: 2.6, fill: "none"}),
    Plot.dot([1], {x: () => ringE[1], y: () => ringI[1], r: 21, stroke: "#111", strokeWidth: 2.6, fill: "none"}),
    Plot.link(leaders, {x1: "E1", y1: "I1", x2: "E2", y2: "I2", stroke: "#111", strokeWidth: 2.6}),
    Plot.text(peakLabels, {x: "E", y: "I", text: "name", textAnchor: "start", lineAnchor: "middle", fontFamily: "Lato, 'Open Sans', sans-serif", fontWeight: "normal", fontSize: 22, fill: "#111"}),
    Plot.text([xAxisLabel], {frameAnchor: "bottom", text: d => d, dy: 65, lineAnchor: "middle", textAnchor: "middle", fontSize: 24, fontWeight: "bold", fill: "#111"}),
    Plot.text([yAxisLabel], {frameAnchor: "left", text: d => d, dx: -72, rotate: -90, textAnchor: "middle", lineAnchor: "middle", fontSize: 24, fontWeight: "bold", fill: "#111"})
  ]
});
document.getElementById("survey").appendChild(survey);

function panel({data, comps, baseline, baseStroke, baseWidth, residual, residZero, domain, ticks, title, titleFont, titleSize, titleDx, titleDy, width, ml, mr}) {
  const e0 = residual[0][0], e1 = residual[residual.length - 1][0];
  return Plot.plot({
    width, height: 617, marginLeft: ml, marginRight: mr, marginTop: 10, marginBottom: 70,
    style: {fontFamily: "'Liberation Serif', 'DejaVu Serif', serif", fontSize: "15px", color: "#666", background: "transparent"},
    x: {domain, ticks, tickSize: 0, tickPadding: 3, label: null, tickFormat: d => String(d)},
    y: {domain: [-5.3, 103.4], axis: null},
    marks: [
      Plot.frame({stroke: "#8c8c8c", strokeWidth: 2}),
      Plot.ruleX(ticks, {y1: 103.4, y2: 102.0, stroke: "#777", strokeWidth: 1.5}),
      Plot.ruleY([residZero], {x1: e0, x2: e1, stroke: "#8a8a8a", strokeWidth: 1.3}),
      Plot.line(residual, {x: X, y: d => residZero + d[1], stroke: "#333", strokeWidth: 1.1}),
      Plot.dot(residual, {x: X, y: d => residZero + d[1], r: 1.2, fill: "#333"}),
      Plot.line(baseline, {x: X, y: Y, stroke: baseStroke, strokeWidth: baseWidth}),
      ...comps.map(c => Plot.line(c, {x: X, y: Y, stroke: "#9a9a9a", strokeWidth: 1.5, curve: "catmull-rom"})),
      Plot.line(data, {x: X, y: Y, stroke: "#888", strokeWidth: 1.2, curve: "catmull-rom"}),
      Plot.line(data, {x: X, y: Y, stroke: "#111", strokeWidth: 3.2, strokeDasharray: "0.5,3.5", strokeLinecap: "round"}),
      Plot.text([title], {frameAnchor: "top-left", text: d => d, dx: titleDx, dy: titleDy, textAnchor: "start", lineAnchor: "middle", fontFamily: titleFont, fontSize: titleSize, fill: "#333"}),
      Plot.text([panelAxisLabel], {frameAnchor: "bottom", text: d => d, dy: 43, lineAnchor: "middle", textAnchor: "middle", fontFamily: "'Liberation Serif', 'DejaVu Serif', serif", fontWeight: "bold", fontSize: 30, fill: "#111"})
    ]
  });
}

document.getElementById("p1").appendChild(panel({data: c1sData, comps: c1sComponents, baseline: c1sBaseline, baseStroke: "#2a2a2a", baseWidth: 2.4, residual: c1sResidual, residZero: c1sResidZero,
  domain: [318.4, 272.05], ticks: c1sTicks, title: panelTitles[0], titleFont: "'Times New Roman', 'Liberation Serif', 'DejaVu Serif', serif", titleSize: 40, titleDx: 71, titleDy: 156, width: 556, ml: 8, mr: 10}));
document.getElementById("p2").appendChild(panel({data: ca2pData, comps: ca2pComponents, baseline: ca2pBaseline, baseStroke: "#2a2a2a", baseWidth: 2.4, residual: ca2pResidual, residZero: ca2pResidZero,
  domain: [372.3, 337.5], ticks: ca2pTicks, title: panelTitles[1], titleFont: "'Open Sans', sans-serif", titleSize: 37, titleDx: 38, titleDy: 164, width: 550, ml: 8, mr: 8}));
document.getElementById("p3").appendChild(panel({data: o1sData, comps: o1sComponents, baseline: o1sBaseline, baseStroke: "#777", baseWidth: 1.5, residual: o1sResidual, residZero: o1sResidZero,
  domain: [551.1, 521.2], ticks: o1sTicks, title: panelTitles[2], titleFont: "'Open Sans', sans-serif", titleSize: 36, titleDx: 43, titleDy: 158, width: 552, ml: 9, mr: 11}));
</script>
</body></html>
